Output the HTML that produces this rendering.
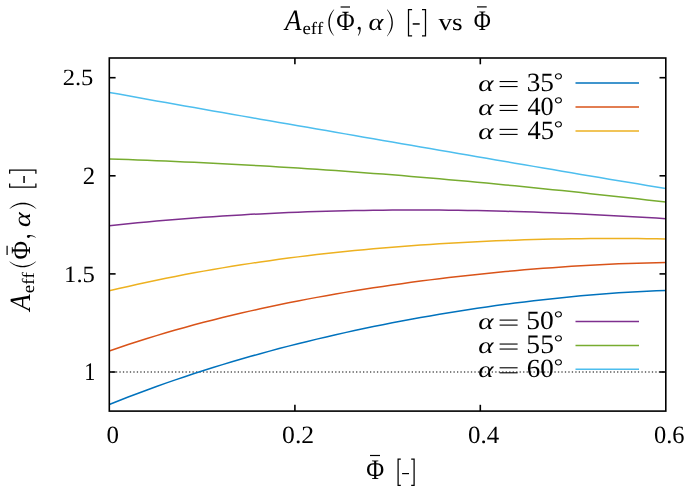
<!DOCTYPE html>
<html><head><meta charset="utf-8"><title>A_eff vs Phi</title>
<style>
html,body{margin:0;padding:0;background:#fff;width:685px;height:486px;overflow:hidden;}
svg{display:block;will-change:transform;}
svg text{font-family:"Liberation Serif", serif;font-kerning:none;text-rendering:geometricPrecision;}
</style></head><body>
<svg width="685" height="486" viewBox="0 0 685 486">
<rect width="685" height="486" fill="#fff"/>
<line x1="109.3" y1="372.0" x2="665.8" y2="372.0" stroke="#000" stroke-width="1.1" stroke-dasharray="1.3 2.18" stroke-dashoffset="0.34"/>
<path d="M109.30,404.55 L118.73,400.76 L128.16,397.06 L137.60,393.45 L147.03,389.93 L156.46,386.49 L165.89,383.14 L175.33,379.86 L184.76,376.67 L194.19,373.55 L203.62,370.50 L213.05,367.52 L222.49,364.62 L231.92,361.78 L241.35,359.02 L250.78,356.32 L260.22,353.68 L269.65,351.10 L279.08,348.59 L288.51,346.14 L297.94,343.74 L307.38,341.41 L316.81,339.13 L326.24,336.91 L335.67,334.74 L345.11,332.62 L354.54,330.56 L363.97,328.55 L373.40,326.59 L382.83,324.68 L392.27,322.82 L401.70,321.02 L411.13,319.26 L420.56,317.55 L429.99,315.89 L439.43,314.27 L448.86,312.71 L458.29,311.19 L467.72,309.72 L477.16,308.30 L486.59,306.92 L496.02,305.59 L505.45,304.31 L514.88,303.08 L524.32,301.90 L533.75,300.77 L543.18,299.69 L552.61,298.65 L562.05,297.67 L571.48,296.74 L580.91,295.86 L590.34,295.03 L599.77,294.26 L609.21,293.54 L618.64,292.87 L628.07,292.26 L637.50,291.71 L646.94,291.22 L656.37,290.79 L665.80,290.42" fill="none" stroke="#0072bd" stroke-width="1.5" stroke-linejoin="round"/>
<path d="M109.30,351.01 L118.73,347.75 L128.16,344.58 L137.60,341.50 L147.03,338.52 L156.46,335.62 L165.89,332.81 L175.33,330.07 L184.76,327.42 L194.19,324.84 L203.62,322.34 L213.05,319.91 L222.49,317.55 L231.92,315.26 L241.35,313.03 L250.78,310.87 L260.22,308.76 L269.65,306.72 L279.08,304.74 L288.51,302.82 L297.94,300.95 L307.38,299.13 L316.81,297.37 L326.24,295.66 L335.67,293.99 L345.11,292.38 L354.54,290.81 L363.97,289.29 L373.40,287.82 L382.83,286.39 L392.27,285.00 L401.70,283.66 L411.13,282.36 L420.56,281.10 L429.99,279.88 L439.43,278.70 L448.86,277.56 L458.29,276.46 L467.72,275.40 L477.16,274.38 L486.59,273.40 L496.02,272.46 L505.45,271.55 L514.88,270.69 L524.32,269.86 L533.75,269.08 L543.18,268.33 L552.61,267.63 L562.05,266.96 L571.48,266.34 L580.91,265.76 L590.34,265.22 L599.77,264.73 L609.21,264.28 L618.64,263.87 L628.07,263.51 L637.50,263.20 L646.94,262.94 L656.37,262.72 L665.80,262.56" fill="none" stroke="#d95319" stroke-width="1.5" stroke-linejoin="round"/>
<path d="M109.30,290.83 L118.73,288.58 L128.16,286.40 L137.60,284.28 L147.03,282.22 L156.46,280.22 L165.89,278.28 L175.33,276.41 L184.76,274.59 L194.19,272.82 L203.62,271.12 L213.05,269.47 L222.49,267.87 L231.92,266.32 L241.35,264.83 L250.78,263.38 L260.22,261.99 L269.65,260.64 L279.08,259.34 L288.51,258.09 L297.94,256.88 L307.38,255.72 L316.81,254.61 L326.24,253.53 L335.67,252.50 L345.11,251.51 L354.54,250.56 L363.97,249.66 L373.40,248.79 L382.83,247.96 L392.27,247.17 L401.70,246.41 L411.13,245.70 L420.56,245.02 L429.99,244.38 L439.43,243.77 L448.86,243.20 L458.29,242.66 L467.72,242.16 L477.16,241.69 L486.59,241.25 L496.02,240.85 L505.45,240.48 L514.88,240.14 L524.32,239.83 L533.75,239.56 L543.18,239.32 L552.61,239.11 L562.05,238.93 L571.48,238.78 L580.91,238.67 L590.34,238.58 L599.77,238.52 L609.21,238.50 L618.64,238.51 L628.07,238.54 L637.50,238.61 L646.94,238.71 L656.37,238.84 L665.80,239.00" fill="none" stroke="#edb120" stroke-width="1.5" stroke-linejoin="round"/>
<path d="M109.30,225.66 L118.73,224.68 L128.16,223.74 L137.60,222.82 L147.03,221.94 L156.46,221.09 L165.89,220.28 L175.33,219.49 L184.76,218.74 L194.19,218.02 L203.62,217.33 L213.05,216.68 L222.49,216.06 L231.92,215.46 L241.35,214.90 L250.78,214.37 L260.22,213.88 L269.65,213.41 L279.08,212.98 L288.51,212.57 L297.94,212.20 L307.38,211.85 L316.81,211.54 L326.24,211.26 L335.67,211.00 L345.11,210.78 L354.54,210.58 L363.97,210.42 L373.40,210.28 L382.83,210.17 L392.27,210.09 L401.70,210.04 L411.13,210.02 L420.56,210.02 L429.99,210.05 L439.43,210.11 L448.86,210.19 L458.29,210.31 L467.72,210.44 L477.16,210.61 L486.59,210.79 L496.02,211.01 L505.45,211.25 L514.88,211.51 L524.32,211.79 L533.75,212.10 L543.18,212.44 L552.61,212.79 L562.05,213.17 L571.48,213.57 L580.91,214.00 L590.34,214.44 L599.77,214.91 L609.21,215.39 L618.64,215.90 L628.07,216.42 L637.50,216.97 L646.94,217.53 L656.37,218.11 L665.80,218.71" fill="none" stroke="#7e2f8e" stroke-width="1.5" stroke-linejoin="round"/>
<path d="M109.30,158.91 L118.73,159.24 L128.16,159.57 L137.60,159.92 L147.03,160.29 L156.46,160.66 L165.89,161.05 L175.33,161.46 L184.76,161.88 L194.19,162.31 L203.62,162.76 L213.05,163.23 L222.49,163.71 L231.92,164.20 L241.35,164.71 L250.78,165.23 L260.22,165.77 L269.65,166.32 L279.08,166.88 L288.51,167.47 L297.94,168.06 L307.38,168.68 L316.81,169.30 L326.24,169.94 L335.67,170.60 L345.11,171.27 L354.54,171.96 L363.97,172.66 L373.40,173.38 L382.83,174.11 L392.27,174.85 L401.70,175.61 L411.13,176.39 L420.56,177.18 L429.99,177.98 L439.43,178.80 L448.86,179.63 L458.29,180.47 L467.72,181.33 L477.16,182.20 L486.59,183.09 L496.02,183.98 L505.45,184.89 L514.88,185.82 L524.32,186.75 L533.75,187.70 L543.18,188.66 L552.61,189.63 L562.05,190.62 L571.48,191.61 L580.91,192.62 L590.34,193.63 L599.77,194.66 L609.21,195.70 L618.64,196.74 L628.07,197.80 L637.50,198.87 L646.94,199.94 L656.37,201.03 L665.80,202.12" fill="none" stroke="#77ac30" stroke-width="1.5" stroke-linejoin="round"/>
<path d="M109.30,92.39 L118.73,94.11 L128.16,95.82 L137.60,97.52 L147.03,99.21 L156.46,100.90 L165.89,102.58 L175.33,104.26 L184.76,105.93 L194.19,107.60 L203.62,109.26 L213.05,110.92 L222.49,112.57 L231.92,114.22 L241.35,115.87 L250.78,117.52 L260.22,119.16 L269.65,120.80 L279.08,122.44 L288.51,124.08 L297.94,125.71 L307.38,127.35 L316.81,128.98 L326.24,130.61 L335.67,132.24 L345.11,133.88 L354.54,135.51 L363.97,137.14 L373.40,138.77 L382.83,140.40 L392.27,142.03 L401.70,143.66 L411.13,145.28 L420.56,146.91 L429.99,148.54 L439.43,150.17 L448.86,151.80 L458.29,153.42 L467.72,155.05 L477.16,156.67 L486.59,158.29 L496.02,159.91 L505.45,161.53 L514.88,163.15 L524.32,164.77 L533.75,166.38 L543.18,167.99 L552.61,169.60 L562.05,171.20 L571.48,172.80 L580.91,174.40 L590.34,175.99 L599.77,177.57 L609.21,179.15 L618.64,180.73 L628.07,182.30 L637.50,183.86 L646.94,185.41 L656.37,186.96 L665.80,188.49" fill="none" stroke="#4dbeee" stroke-width="1.5" stroke-linejoin="round"/>
<line x1="575.5" y1="83.05" x2="639" y2="83.05" stroke="#0072bd" stroke-width="1.5"/>
<line x1="575.5" y1="106.95" x2="639" y2="106.95" stroke="#d95319" stroke-width="1.5"/>
<line x1="575.5" y1="130.9" x2="639" y2="130.9" stroke="#edb120" stroke-width="1.5"/>
<line x1="575.5" y1="321.6" x2="639" y2="321.6" stroke="#7e2f8e" stroke-width="1.5"/>
<line x1="575.5" y1="345.55" x2="639" y2="345.55" stroke="#77ac30" stroke-width="1.5"/>
<line x1="575.5" y1="369.3" x2="639" y2="369.3" stroke="#4dbeee" stroke-width="1.5"/>
<rect x="109.3" y="58.0" width="556.5" height="353.1" fill="none" stroke="#000" stroke-width="1.6"/>
<line x1="109.3" y1="77.7" x2="115.6" y2="77.7" stroke="#000" stroke-width="1.6"/>
<line x1="665.8" y1="77.7" x2="659.5" y2="77.7" stroke="#000" stroke-width="1.6"/>
<line x1="109.3" y1="175.8" x2="115.6" y2="175.8" stroke="#000" stroke-width="1.6"/>
<line x1="665.8" y1="175.8" x2="659.5" y2="175.8" stroke="#000" stroke-width="1.6"/>
<line x1="109.3" y1="273.9" x2="115.6" y2="273.9" stroke="#000" stroke-width="1.6"/>
<line x1="665.8" y1="273.9" x2="659.5" y2="273.9" stroke="#000" stroke-width="1.6"/>
<line x1="109.3" y1="372.0" x2="115.6" y2="372.0" stroke="#000" stroke-width="1.6"/>
<line x1="665.8" y1="372.0" x2="659.5" y2="372.0" stroke="#000" stroke-width="1.6"/>
<line x1="294.9" y1="411.1" x2="294.9" y2="404.8" stroke="#000" stroke-width="1.6"/>
<line x1="294.9" y1="58.0" x2="294.9" y2="64.3" stroke="#000" stroke-width="1.6"/>
<line x1="480.3" y1="411.1" x2="480.3" y2="404.8" stroke="#000" stroke-width="1.6"/>
<line x1="480.3" y1="58.0" x2="480.3" y2="64.3" stroke="#000" stroke-width="1.6"/>
<g fill="#000">
<text transform="translate(62.67,85.00) scale(1.059,1)" font-size="23.22">2.5</text>
<text x="82.76" y="184.00" font-size="24.77">2</text>
<text transform="translate(64.08,282.00) scale(1.053,1)" font-size="23.43">1.5</text>
<text transform="translate(84.30,380.00) scale(0.871,1)" font-size="25.45">1</text>
<text x="106.60" y="443.00" font-size="24.90">0</text>
<text transform="translate(282.07,443.00) scale(1.032,1)" font-size="24.88">0.2</text>
<text x="468.00" y="443.00" font-size="24.88">0.4</text>
<text transform="translate(653.92,443.00) scale(0.983,1)" font-size="24.88">0.6</text>
<text transform="translate(478.18,91.00) scale(1.264,1)" font-size="23.03" font-style="italic">α</text>
<line x1="499.6" y1="81.55" x2="517.6" y2="81.55" stroke="#000" stroke-width="1.1"/>
<line x1="499.6" y1="86.55" x2="517.6" y2="86.55" stroke="#000" stroke-width="1.1"/>
<text transform="translate(526.65,91.00) scale(1.035,1)" font-size="26.34">35</text>
<text transform="translate(553.83,87.27) scale(1.127,1)" font-size="20.78">°</text>
<text transform="translate(478.18,115.00) scale(1.264,1)" font-size="23.03" font-style="italic">α</text>
<line x1="499.6" y1="105.45" x2="517.6" y2="105.45" stroke="#000" stroke-width="1.1"/>
<line x1="499.6" y1="110.45" x2="517.6" y2="110.45" stroke="#000" stroke-width="1.1"/>
<text x="527.43" y="115.00" font-size="26.23">40</text>
<text transform="translate(553.83,111.27) scale(1.127,1)" font-size="20.78">°</text>
<text transform="translate(478.18,139.00) scale(1.264,1)" font-size="23.03" font-style="italic">α</text>
<line x1="499.6" y1="129.4" x2="517.6" y2="129.4" stroke="#000" stroke-width="1.1"/>
<line x1="499.6" y1="134.4" x2="517.6" y2="134.4" stroke="#000" stroke-width="1.1"/>
<text x="527.43" y="139.00" font-size="26.50">45</text>
<text transform="translate(553.83,135.27) scale(1.127,1)" font-size="20.78">°</text>
<text transform="translate(478.18,329.00) scale(1.264,1)" font-size="23.03" font-style="italic">α</text>
<line x1="499.6" y1="320.1" x2="517.6" y2="320.1" stroke="#000" stroke-width="1.1"/>
<line x1="499.6" y1="325.1" x2="517.6" y2="325.1" stroke="#000" stroke-width="1.1"/>
<text transform="translate(526.35,329.00) scale(1.050,1)" font-size="26.23">50</text>
<text transform="translate(553.83,325.27) scale(1.127,1)" font-size="20.78">°</text>
<text transform="translate(478.18,353.00) scale(1.264,1)" font-size="23.03" font-style="italic">α</text>
<line x1="499.6" y1="344.05" x2="517.6" y2="344.05" stroke="#000" stroke-width="1.1"/>
<line x1="499.6" y1="349.05" x2="517.6" y2="349.05" stroke="#000" stroke-width="1.1"/>
<text transform="translate(526.35,353.00) scale(1.035,1)" font-size="26.63">55</text>
<text transform="translate(553.83,349.27) scale(1.127,1)" font-size="20.78">°</text>
<text transform="translate(478.18,377.00) scale(1.264,1)" font-size="23.03" font-style="italic">α</text>
<line x1="499.6" y1="367.8" x2="517.6" y2="367.8" stroke="#000" stroke-width="1.1"/>
<line x1="499.6" y1="372.8" x2="517.6" y2="372.8" stroke="#000" stroke-width="1.1"/>
<text transform="translate(526.79,377.00) scale(1.033,1)" font-size="26.23">60</text>
<text transform="translate(553.83,373.27) scale(1.127,1)" font-size="20.78">°</text>
<text transform="translate(284.93,30.00) scale(0.921,1)" font-size="29.39" font-style="italic">A</text>
<text transform="translate(302.52,34.00) scale(1.081,1)" font-size="17.37">eff</text>
<path d="M334.10,9.20 C330.77,12.70 328.35,16.73 328.35,22.65 C328.35,28.57 330.77,32.60 334.10,36.10 L334.10,35.65 C331.51,32.33 329.70,28.03 329.70,22.65 C329.70,17.27 331.51,12.97 334.10,9.65 Z" fill="#000"/>
<text transform="translate(336.29,30.00) scale(0.907,1)" font-size="27.80">Φ</text>
<line x1="340.6" y1="7.0" x2="350.0" y2="7.0" stroke="#000" stroke-width="1.2"/>
<circle cx="359.2" cy="28.3" r="1.45" fill="#000"/><path d="M360.55,28.4 C361.0,30.6 360.3,33.1 358.3,35.8 L357.9,35.5 C359.4,33.1 359.7,31.0 359.3,29.5 Z" fill="#000"/>
<text transform="translate(368.61,30.00) scale(1.169,1)" font-size="24.07" font-style="italic">α</text>
<path d="M387.00,9.30 C390.39,12.82 392.85,16.89 392.85,22.85 C392.85,28.81 390.39,32.88 387.00,36.40 L387.00,35.95 C389.63,32.61 391.50,28.27 391.50,22.85 C391.50,17.43 389.63,13.09 387.00,9.75 Z" fill="#000"/>
<path d="M412.1 9.55H408.5V35.8H412.1M422.0 9.55H425.5V35.8H422.0" fill="none" stroke="#000" stroke-width="1.25"/>
<rect x="412.7" y="23.2" width="7.0" height="1.5" fill="#000"/>
<text transform="translate(438.45,30.00) scale(1.128,1)" font-size="24.12">vs</text>
<text transform="translate(473.65,30.00) scale(0.824,1)" font-size="28.25">Φ</text>
<line x1="477.0" y1="6.9" x2="486.7" y2="6.9" stroke="#000" stroke-width="1.2"/>
<g transform="translate(0.1,595.7) rotate(-90)"><text transform="translate(284.93,30.00) scale(0.921,1)" font-size="29.39" font-style="italic">A</text><text transform="translate(302.52,34.00) scale(1.081,1)" font-size="17.37">eff</text><path d="M334.10,9.20 C330.77,12.70 328.35,16.73 328.35,22.65 C328.35,28.57 330.77,32.60 334.10,36.10 L334.10,35.65 C331.51,32.33 329.70,28.03 329.70,22.65 C329.70,17.27 331.51,12.97 334.10,9.65 Z" fill="#000"/><text transform="translate(336.29,30.00) scale(0.907,1)" font-size="27.80">Φ</text><line x1="340.6" y1="7.0" x2="350.0" y2="7.0" stroke="#000" stroke-width="1.2"/><circle cx="359.2" cy="28.3" r="1.45" fill="#000"/><path d="M360.55,28.4 C361.0,30.6 360.3,33.1 358.3,35.8 L357.9,35.5 C359.4,33.1 359.7,31.0 359.3,29.5 Z" fill="#000"/><text transform="translate(368.61,30.00) scale(1.169,1)" font-size="24.07" font-style="italic">α</text><path d="M387.00,9.30 C390.39,12.82 392.85,16.89 392.85,22.85 C392.85,28.81 390.39,32.88 387.00,36.40 L387.00,35.95 C389.63,32.61 391.50,28.27 391.50,22.85 C391.50,17.43 389.63,13.09 387.00,9.75 Z" fill="#000"/><path d="M412.1 9.55H408.5V35.8H412.1M422.0 9.55H425.5V35.8H422.0" fill="none" stroke="#000" stroke-width="1.25"/><rect x="412.7" y="23.2" width="7.0" height="1.5" fill="#000"/></g>
<text transform="translate(366.31,479.00) scale(0.866,1)" font-size="28.25">Φ</text>
<line x1="370.0" y1="455.5" x2="380.0" y2="455.5" stroke="#000" stroke-width="1.2"/>
<path d="M400.8 459.1H398.1V485.3H400.8M411.2 459.1H414.1V485.3H411.2" fill="none" stroke="#000" stroke-width="1.25"/>
<rect x="402.1" y="473.0" width="6.9" height="1.2" fill="#000"/>
</g>
</svg>
</body></html>
